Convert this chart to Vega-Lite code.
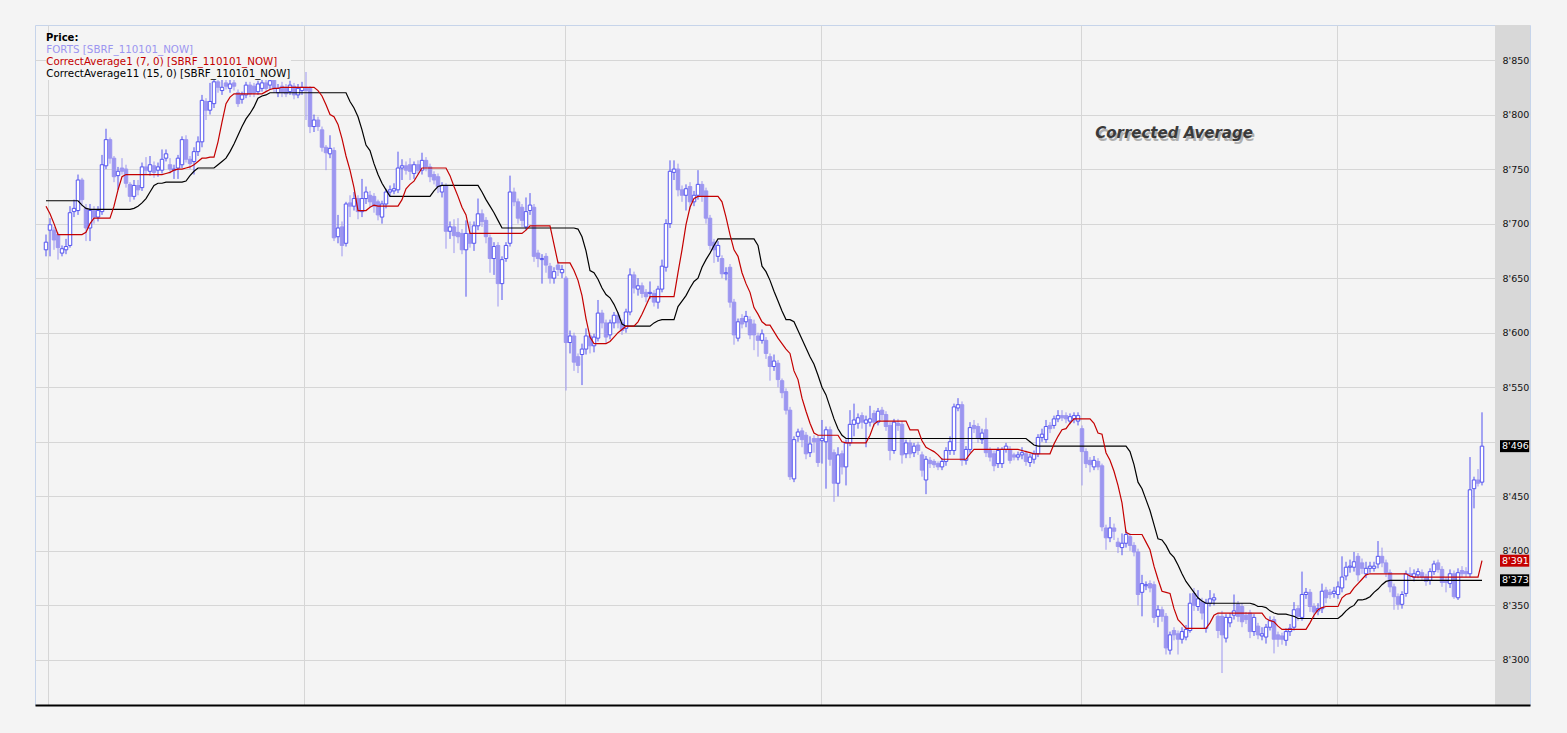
{
"$schema":"https://vega.github.io/schema/vega-lite/v6.json",
"width":1495,"height":680,
"autosize":{"type":"none"},
"padding":{"left":35,"top":25,"right":37,"bottom":28},
"background":"#f4f4f4",
"config":{"view":{"fill":"#f4f4f4","stroke":"#c6d4ea","strokeWidth":1},"font":"DejaVu Sans"},
"resolve":{"axis":{"x":"independent","y":"independent"}},
"datasets":{
"c":[
{"i":0,"o":8676,"h":8690,"l":8670,"c":8683,"a":8716,"b":8721},
{"i":1,"o":8694,"h":8705,"l":8670,"c":8699,"a":8709,"b":8721},
{"i":2,"o":8694,"h":8697,"l":8676,"c":8685,"a":8700,"b":8721},
{"i":3,"o":8690,"h":8692,"l":8667,"c":8678,"a":8690,"b":8721},
{"i":4,"o":8673,"h":8680,"l":8670,"c":8677,"a":8690,"b":8721},
{"i":5,"o":8676,"h":8686,"l":8672,"c":8679,"a":8690,"b":8721},
{"i":6,"o":8680,"h":8716,"l":8678,"c":8710,"a":8690,"b":8721},
{"i":7,"o":8711,"h":8722,"l":8706,"c":8714,"a":8690,"b":8721},
{"i":8,"o":8712,"h":8745,"l":8708,"c":8740,"a":8690,"b":8721},
{"i":9,"o":8740,"h":8742,"l":8716,"c":8722,"a":8690,"b":8717},
{"i":10,"o":8714,"h":8718,"l":8684,"c":8696,"a":8692,"b":8714},
{"i":11,"o":8696,"h":8718,"l":8684,"c":8712,"a":8700,"b":8713},
{"i":12,"o":8712,"h":8716,"l":8700,"c":8706,"a":8705,"b":8713},
{"i":13,"o":8706,"h":8716,"l":8702,"c":8712,"a":8705,"b":8713},
{"i":14,"o":8711,"h":8763,"l":8708,"c":8754,"a":8705,"b":8713},
{"i":15,"o":8753,"h":8787,"l":8750,"c":8777,"a":8705,"b":8713},
{"i":16,"o":8777,"h":8779,"l":8755,"c":8760,"a":8705,"b":8713},
{"i":17,"o":8760,"h":8762,"l":8738,"c":8743,"a":8716,"b":8713},
{"i":18,"o":8744,"h":8752,"l":8731,"c":8748,"a":8731,"b":8713},
{"i":19,"o":8751,"h":8760,"l":8745,"c":8748,"a":8743,"b":8713},
{"i":20,"o":8750,"h":8754,"l":8733,"c":8737,"a":8745,"b":8713},
{"i":21,"o":8736,"h":8738,"l":8720,"c":8725,"a":8745,"b":8713},
{"i":22,"o":8725,"h":8740,"l":8722,"c":8735,"a":8745,"b":8714},
{"i":23,"o":8735,"h":8740,"l":8726,"c":8731,"a":8745,"b":8716},
{"i":24,"o":8733,"h":8756,"l":8730,"c":8752,"a":8745,"b":8719},
{"i":25,"o":8752,"h":8761,"l":8745,"c":8749,"a":8745,"b":8723},
{"i":26,"o":8748,"h":8762,"l":8744,"c":8754,"a":8745,"b":8729},
{"i":27,"o":8753,"h":8757,"l":8742,"c":8747,"a":8745,"b":8735},
{"i":28,"o":8749,"h":8756,"l":8743,"c":8752,"a":8745,"b":8737},
{"i":29,"o":8749,"h":8768,"l":8746,"c":8759,"a":8745,"b":8737},
{"i":30,"o":8760,"h":8768,"l":8757,"c":8764,"a":8746,"b":8738},
{"i":31,"o":8754,"h":8760,"l":8746,"c":8750,"a":8747,"b":8738},
{"i":32,"o":8749,"h":8754,"l":8741,"c":8750,"a":8749,"b":8738},
{"i":33,"o":8751,"h":8763,"l":8741,"c":8760,"a":8750,"b":8738},
{"i":34,"o":8754,"h":8780,"l":8751,"c":8777,"a":8750,"b":8738},
{"i":35,"o":8777,"h":8781,"l":8756,"c":8759,"a":8751,"b":8739},
{"i":36,"o":8759,"h":8762,"l":8750,"c":8755,"a":8752,"b":8744},
{"i":37,"o":8757,"h":8770,"l":8745,"c":8766,"a":8754,"b":8748},
{"i":38,"o":8766,"h":8780,"l":8762,"c":8775,"a":8757,"b":8751},
{"i":39,"o":8775,"h":8818,"l":8770,"c":8813,"a":8760,"b":8751},
{"i":40,"o":8812,"h":8815,"l":8795,"c":8804,"a":8760,"b":8751},
{"i":41,"o":8804,"h":8829,"l":8800,"c":8812,"a":8761,"b":8751},
{"i":42,"o":8810,"h":8834,"l":8806,"c":8830,"a":8761,"b":8751},
{"i":43,"o":8830,"h":8838,"l":8820,"c":8825,"a":8775,"b":8754},
{"i":44,"o":8822,"h":8832,"l":8818,"c":8825,"a":8793,"b":8757},
{"i":45,"o":8829,"h":8835,"l":8823,"c":8826,"a":8810,"b":8760},
{"i":46,"o":8824,"h":8833,"l":8820,"c":8828,"a":8816,"b":8766},
{"i":47,"o":8829,"h":8833,"l":8822,"c":8826,"a":8819,"b":8773},
{"i":48,"o":8820,"h":8823,"l":8807,"c":8810,"a":8819,"b":8781},
{"i":49,"o":8814,"h":8821,"l":8810,"c":8818,"a":8819,"b":8789},
{"i":50,"o":8818,"h":8830,"l":8815,"c":8827,"a":8819,"b":8796},
{"i":51,"o":8827,"h":8830,"l":8816,"c":8819,"a":8819,"b":8801},
{"i":52,"o":8826,"h":8829,"l":8816,"c":8820,"a":8819,"b":8807},
{"i":53,"o":8821,"h":8831,"l":8818,"c":8828,"a":8819,"b":8815},
{"i":54,"o":8824,"h":8833,"l":8821,"c":8829,"a":8819,"b":8817},
{"i":55,"o":8829,"h":8832,"l":8821,"c":8824,"a":8821,"b":8818},
{"i":56,"o":8827,"h":8835,"l":8823,"c":8831,"a":8823,"b":8820},
{"i":57,"o":8832,"h":8836,"l":8820,"c":8824,"a":8824,"b":8820},
{"i":58,"o":8820,"h":8828,"l":8816,"c":8824,"a":8824,"b":8820},
{"i":59,"o":8826,"h":8830,"l":8816,"c":8820,"a":8825,"b":8820},
{"i":60,"o":8824,"h":8828,"l":8816,"c":8819,"a":8825,"b":8820},
{"i":61,"o":8821,"h":8831,"l":8818,"c":8827,"a":8825,"b":8820},
{"i":62,"o":8826,"h":8829,"l":8814,"c":8818,"a":8825,"b":8820},
{"i":63,"o":8818,"h":8828,"l":8815,"c":8824,"a":8825,"b":8820},
{"i":64,"o":8822,"h":8830,"l":8818,"c":8825,"a":8825,"b":8820},
{"i":65,"o":8825,"h":8839,"l":8795,"c":8822,"a":8825,"b":8820},
{"i":66,"o":8824,"h":8826,"l":8783,"c":8789,"a":8825,"b":8820},
{"i":67,"o":8789,"h":8800,"l":8784,"c":8795,"a":8825,"b":8820},
{"i":68,"o":8795,"h":8798,"l":8785,"c":8789,"a":8822,"b":8820},
{"i":69,"o":8786,"h":8789,"l":8766,"c":8770,"a":8817,"b":8820},
{"i":70,"o":8770,"h":8772,"l":8749,"c":8765,"a":8809,"b":8820},
{"i":71,"o":8764,"h":8781,"l":8760,"c":8769,"a":8800,"b":8820},
{"i":72,"o":8767,"h":8770,"l":8684,"c":8687,"a":8798,"b":8820},
{"i":73,"o":8688,"h":8708,"l":8682,"c":8696,"a":8791,"b":8820},
{"i":74,"o":8697,"h":8702,"l":8670,"c":8680,"a":8778,"b":8820},
{"i":75,"o":8682,"h":8720,"l":8679,"c":8718,"a":8762,"b":8820},
{"i":76,"o":8719,"h":8726,"l":8706,"c":8716,"a":8749,"b":8812},
{"i":77,"o":8716,"h":8729,"l":8712,"c":8723,"a":8733,"b":8806},
{"i":78,"o":8723,"h":8726,"l":8704,"c":8711,"a":8712,"b":8798},
{"i":79,"o":8711,"h":8741,"l":8706,"c":8723,"a":8712,"b":8786},
{"i":80,"o":8723,"h":8734,"l":8718,"c":8729,"a":8712,"b":8772},
{"i":81,"o":8726,"h":8730,"l":8715,"c":8720,"a":8715,"b":8767},
{"i":82,"o":8725,"h":8728,"l":8710,"c":8716,"a":8717,"b":8755},
{"i":83,"o":8720,"h":8722,"l":8703,"c":8708,"a":8716,"b":8745},
{"i":84,"o":8706,"h":8721,"l":8700,"c":8718,"a":8716,"b":8737},
{"i":85,"o":8718,"h":8732,"l":8714,"c":8729,"a":8716,"b":8731},
{"i":86,"o":8729,"h":8735,"l":8725,"c":8731,"a":8716,"b":8725},
{"i":87,"o":8730,"h":8737,"l":8727,"c":8732,"a":8716,"b":8725},
{"i":88,"o":8731,"h":8766,"l":8728,"c":8751,"a":8716,"b":8725},
{"i":89,"o":8751,"h":8759,"l":8740,"c":8753,"a":8722,"b":8725},
{"i":90,"o":8753,"h":8757,"l":8745,"c":8749,"a":8732,"b":8725},
{"i":91,"o":8754,"h":8760,"l":8740,"c":8748,"a":8736,"b":8725},
{"i":92,"o":8746,"h":8757,"l":8741,"c":8754,"a":8739,"b":8725},
{"i":93,"o":8754,"h":8758,"l":8745,"c":8749,"a":8745,"b":8725},
{"i":94,"o":8749,"h":8765,"l":8745,"c":8758,"a":8751,"b":8725},
{"i":95,"o":8758,"h":8761,"l":8748,"c":8752,"a":8751,"b":8725},
{"i":96,"o":8752,"h":8755,"l":8738,"c":8743,"a":8751,"b":8725},
{"i":97,"o":8745,"h":8748,"l":8736,"c":8740,"a":8751,"b":8730},
{"i":98,"o":8743,"h":8746,"l":8728,"c":8734,"a":8751,"b":8734},
{"i":99,"o":8729,"h":8738,"l":8724,"c":8735,"a":8751,"b":8735},
{"i":100,"o":8735,"h":8737,"l":8677,"c":8693,"a":8751,"b":8735},
{"i":101,"o":8693,"h":8702,"l":8686,"c":8697,"a":8744,"b":8735},
{"i":102,"o":8697,"h":8704,"l":8673,"c":8689,"a":8734,"b":8735},
{"i":103,"o":8692,"h":8705,"l":8682,"c":8688,"a":8725,"b":8735},
{"i":104,"o":8691,"h":8695,"l":8672,"c":8676,"a":8715,"b":8735},
{"i":105,"o":8676,"h":8703,"l":8633,"c":8691,"a":8708,"b":8735},
{"i":106,"o":8691,"h":8702,"l":8678,"c":8682,"a":8691,"b":8735},
{"i":107,"o":8682,"h":8702,"l":8675,"c":8698,"a":8691,"b":8735},
{"i":108,"o":8698,"h":8723,"l":8694,"c":8709,"a":8691,"b":8735},
{"i":109,"o":8709,"h":8713,"l":8697,"c":8702,"a":8691,"b":8729},
{"i":110,"o":8703,"h":8706,"l":8682,"c":8688,"a":8691,"b":8722},
{"i":111,"o":8687,"h":8690,"l":8655,"c":8668,"a":8691,"b":8716},
{"i":112,"o":8668,"h":8683,"l":8653,"c":8679,"a":8691,"b":8710},
{"i":113,"o":8680,"h":8683,"l":8624,"c":8645,"a":8691,"b":8703},
{"i":114,"o":8645,"h":8670,"l":8630,"c":8667,"a":8691,"b":8696},
{"i":115,"o":8668,"h":8683,"l":8665,"c":8680,"a":8691,"b":8696},
{"i":116,"o":8682,"h":8744,"l":8679,"c":8729,"a":8691,"b":8696},
{"i":117,"o":8729,"h":8733,"l":8716,"c":8720,"a":8691,"b":8696},
{"i":118,"o":8720,"h":8723,"l":8700,"c":8705,"a":8691,"b":8696},
{"i":119,"o":8715,"h":8718,"l":8697,"c":8703,"a":8691,"b":8696},
{"i":120,"o":8697,"h":8724,"l":8694,"c":8711,"a":8694,"b":8696},
{"i":121,"o":8712,"h":8728,"l":8708,"c":8717,"a":8698,"b":8696},
{"i":122,"o":8715,"h":8718,"l":8665,"c":8670,"a":8698,"b":8696},
{"i":123,"o":8673,"h":8676,"l":8660,"c":8668,"a":8698,"b":8696},
{"i":124,"o":8667,"h":8672,"l":8645,"c":8668,"a":8698,"b":8696},
{"i":125,"o":8670,"h":8673,"l":8655,"c":8662,"a":8698,"b":8696},
{"i":126,"o":8661,"h":8664,"l":8645,"c":8650,"a":8698,"b":8696},
{"i":127,"o":8650,"h":8660,"l":8645,"c":8656,"a":8681,"b":8696},
{"i":128,"o":8662,"h":8666,"l":8652,"c":8658,"a":8664,"b":8696},
{"i":129,"o":8655,"h":8662,"l":8650,"c":8658,"a":8664,"b":8696},
{"i":130,"o":8650,"h":8652,"l":8547,"c":8591,"a":8664,"b":8696},
{"i":131,"o":8591,"h":8602,"l":8581,"c":8597,"a":8664,"b":8696},
{"i":132,"o":8597,"h":8600,"l":8565,"c":8573,"a":8657,"b":8696},
{"i":133,"o":8578,"h":8581,"l":8563,"c":8570,"a":8648,"b":8695},
{"i":134,"o":8580,"h":8590,"l":8552,"c":8585,"a":8634,"b":8688},
{"i":135,"o":8585,"h":8604,"l":8580,"c":8597,"a":8613,"b":8675},
{"i":136,"o":8597,"h":8600,"l":8581,"c":8588,"a":8596,"b":8657},
{"i":137,"o":8588,"h":8599,"l":8582,"c":8596,"a":8590,"b":8655},
{"i":138,"o":8595,"h":8630,"l":8592,"c":8618,"a":8590,"b":8649},
{"i":139,"o":8618,"h":8621,"l":8604,"c":8609,"a":8590,"b":8641},
{"i":140,"o":8609,"h":8612,"l":8590,"c":8596,"a":8590,"b":8635},
{"i":141,"o":8598,"h":8612,"l":8594,"c":8609,"a":8592,"b":8632},
{"i":142,"o":8609,"h":8619,"l":8604,"c":8616,"a":8596,"b":8626},
{"i":143,"o":8616,"h":8619,"l":8604,"c":8609,"a":8600,"b":8618},
{"i":144,"o":8609,"h":8612,"l":8598,"c":8602,"a":8603,"b":8608},
{"i":145,"o":8604,"h":8622,"l":8600,"c":8619,"a":8606,"b":8606},
{"i":146,"o":8619,"h":8659,"l":8616,"c":8653,"a":8606,"b":8606},
{"i":147,"o":8653,"h":8656,"l":8636,"c":8641,"a":8606,"b":8606},
{"i":148,"o":8640,"h":8650,"l":8634,"c":8643,"a":8610,"b":8606},
{"i":149,"o":8643,"h":8646,"l":8632,"c":8636,"a":8617,"b":8606},
{"i":150,"o":8637,"h":8640,"l":8628,"c":8633,"a":8625,"b":8606},
{"i":151,"o":8636,"h":8647,"l":8631,"c":8637,"a":8633,"b":8606},
{"i":152,"o":8636,"h":8639,"l":8624,"c":8628,"a":8633,"b":8609},
{"i":153,"o":8628,"h":8643,"l":8622,"c":8640,"a":8633,"b":8611},
{"i":154,"o":8640,"h":8667,"l":8637,"c":8661,"a":8633,"b":8612},
{"i":155,"o":8660,"h":8704,"l":8656,"c":8700,"a":8633,"b":8612},
{"i":156,"o":8700,"h":8758,"l":8696,"c":8748,"a":8633,"b":8612},
{"i":157,"o":8747,"h":8758,"l":8740,"c":8750,"a":8633,"b":8612},
{"i":158,"o":8750,"h":8755,"l":8725,"c":8731,"a":8655,"b":8624},
{"i":159,"o":8731,"h":8735,"l":8720,"c":8726,"a":8676,"b":8629},
{"i":160,"o":8726,"h":8736,"l":8712,"c":8732,"a":8699,"b":8634},
{"i":161,"o":8734,"h":8738,"l":8713,"c":8720,"a":8715,"b":8641},
{"i":162,"o":8720,"h":8730,"l":8716,"c":8726,"a":8723,"b":8647},
{"i":163,"o":8726,"h":8749,"l":8722,"c":8736,"a":8725,"b":8650},
{"i":164,"o":8736,"h":8739,"l":8720,"c":8725,"a":8725,"b":8660},
{"i":165,"o":8730,"h":8733,"l":8700,"c":8705,"a":8725,"b":8667},
{"i":166,"o":8705,"h":8708,"l":8676,"c":8680,"a":8725,"b":8673},
{"i":167,"o":8683,"h":8686,"l":8664,"c":8676,"a":8725,"b":8680},
{"i":168,"o":8670,"h":8684,"l":8665,"c":8680,"a":8725,"b":8686},
{"i":169,"o":8668,"h":8671,"l":8650,"c":8654,"a":8720,"b":8686},
{"i":170,"o":8654,"h":8660,"l":8648,"c":8655,"a":8706,"b":8686},
{"i":171,"o":8660,"h":8663,"l":8623,"c":8628,"a":8690,"b":8686},
{"i":172,"o":8628,"h":8631,"l":8589,"c":8598,"a":8676,"b":8686},
{"i":173,"o":8595,"h":8613,"l":8592,"c":8610,"a":8670,"b":8686},
{"i":174,"o":8613,"h":8617,"l":8604,"c":8608,"a":8655,"b":8686},
{"i":175,"o":8610,"h":8620,"l":8605,"c":8615,"a":8645,"b":8686},
{"i":176,"o":8612,"h":8615,"l":8594,"c":8598,"a":8637,"b":8686},
{"i":177,"o":8608,"h":8612,"l":8584,"c":8598,"a":8623,"b":8686},
{"i":178,"o":8597,"h":8600,"l":8578,"c":8593,"a":8617,"b":8680},
{"i":179,"o":8593,"h":8603,"l":8590,"c":8599,"a":8610,"b":8661},
{"i":180,"o":8593,"h":8596,"l":8576,"c":8581,"a":8607,"b":8656},
{"i":181,"o":8578,"h":8581,"l":8556,"c":8569,"a":8607,"b":8648},
{"i":182,"o":8569,"h":8580,"l":8565,"c":8574,"a":8601,"b":8638},
{"i":183,"o":8572,"h":8575,"l":8550,"c":8557,"a":8595,"b":8629},
{"i":184,"o":8556,"h":8558,"l":8540,"c":8545,"a":8590,"b":8620},
{"i":185,"o":8546,"h":8549,"l":8525,"c":8529,"a":8585,"b":8612},
{"i":186,"o":8529,"h":8532,"l":8465,"c":8468,"a":8581,"b":8612},
{"i":187,"o":8466,"h":8505,"l":8463,"c":8502,"a":8565,"b":8610},
{"i":188,"o":8505,"h":8512,"l":8500,"c":8509,"a":8557,"b":8602},
{"i":189,"o":8510,"h":8513,"l":8495,"c":8502,"a":8540,"b":8594},
{"i":190,"o":8506,"h":8509,"l":8484,"c":8489,"a":8528,"b":8586},
{"i":191,"o":8490,"h":8505,"l":8486,"c":8498,"a":8517,"b":8578},
{"i":192,"o":8503,"h":8506,"l":8490,"c":8500,"a":8508,"b":8571},
{"i":193,"o":8503,"h":8506,"l":8477,"c":8481,"a":8506,"b":8561},
{"i":194,"o":8501,"h":8520,"l":8480,"c":8503,"a":8506,"b":8550},
{"i":195,"o":8500,"h":8514,"l":8457,"c":8511,"a":8506,"b":8543},
{"i":196,"o":8511,"h":8514,"l":8478,"c":8484,"a":8506,"b":8532},
{"i":197,"o":8490,"h":8493,"l":8445,"c":8462,"a":8506,"b":8521},
{"i":198,"o":8462,"h":8495,"l":8450,"c":8488,"a":8506,"b":8512},
{"i":199,"o":8489,"h":8492,"l":8470,"c":8477,"a":8500,"b":8506},
{"i":200,"o":8477,"h":8502,"l":8460,"c":8499,"a":8499,"b":8503},
{"i":201,"o":8499,"h":8529,"l":8496,"c":8516,"a":8499,"b":8503},
{"i":202,"o":8516,"h":8535,"l":8505,"c":8520,"a":8499,"b":8503},
{"i":203,"o":8517,"h":8526,"l":8512,"c":8522,"a":8499,"b":8503},
{"i":204,"o":8524,"h":8527,"l":8512,"c":8518,"a":8499,"b":8503},
{"i":205,"o":8517,"h":8524,"l":8495,"c":8520,"a":8499,"b":8503},
{"i":206,"o":8518,"h":8533,"l":8514,"c":8521,"a":8506,"b":8503},
{"i":207,"o":8526,"h":8529,"l":8514,"c":8518,"a":8516,"b":8503},
{"i":208,"o":8518,"h":8531,"l":8515,"c":8528,"a":8519,"b":8503},
{"i":209,"o":8529,"h":8532,"l":8520,"c":8525,"a":8519,"b":8503},
{"i":210,"o":8525,"h":8528,"l":8510,"c":8514,"a":8519,"b":8503},
{"i":211,"o":8515,"h":8518,"l":8483,"c":8492,"a":8519,"b":8503},
{"i":212,"o":8492,"h":8521,"l":8489,"c":8518,"a":8519,"b":8503},
{"i":213,"o":8517,"h":8521,"l":8510,"c":8515,"a":8519,"b":8503},
{"i":214,"o":8516,"h":8519,"l":8480,"c":8488,"a":8519,"b":8503},
{"i":215,"o":8489,"h":8502,"l":8485,"c":8499,"a":8519,"b":8503},
{"i":216,"o":8499,"h":8502,"l":8485,"c":8489,"a":8511,"b":8503},
{"i":217,"o":8490,"h":8499,"l":8486,"c":8496,"a":8511,"b":8503},
{"i":218,"o":8497,"h":8500,"l":8488,"c":8492,"a":8511,"b":8503},
{"i":219,"o":8488,"h":8491,"l":8468,"c":8474,"a":8501,"b":8503},
{"i":220,"o":8465,"h":8487,"l":8452,"c":8484,"a":8495,"b":8503},
{"i":221,"o":8483,"h":8486,"l":8476,"c":8480,"a":8493,"b":8503},
{"i":222,"o":8482,"h":8484,"l":8476,"c":8479,"a":8491,"b":8503},
{"i":223,"o":8480,"h":8482,"l":8474,"c":8477,"a":8488,"b":8503},
{"i":224,"o":8477,"h":8485,"l":8474,"c":8482,"a":8484,"b":8503},
{"i":225,"o":8482,"h":8495,"l":8478,"c":8492,"a":8484,"b":8503},
{"i":226,"o":8492,"h":8505,"l":8488,"c":8500,"a":8484,"b":8503},
{"i":227,"o":8492,"h":8535,"l":8488,"c":8532,"a":8484,"b":8503},
{"i":228,"o":8531,"h":8540,"l":8528,"c":8534,"a":8484,"b":8503},
{"i":229,"o":8534,"h":8537,"l":8478,"c":8483,"a":8484,"b":8503},
{"i":230,"o":8483,"h":8496,"l":8479,"c":8493,"a":8484,"b":8503},
{"i":231,"o":8493,"h":8518,"l":8490,"c":8513,"a":8489,"b":8503},
{"i":232,"o":8515,"h":8520,"l":8508,"c":8512,"a":8493,"b":8503},
{"i":233,"o":8514,"h":8517,"l":8499,"c":8503,"a":8493,"b":8503},
{"i":234,"o":8502,"h":8512,"l":8498,"c":8508,"a":8493,"b":8503},
{"i":235,"o":8511,"h":8522,"l":8486,"c":8490,"a":8493,"b":8503},
{"i":236,"o":8492,"h":8495,"l":8482,"c":8486,"a":8493,"b":8503},
{"i":237,"o":8489,"h":8492,"l":8473,"c":8478,"a":8493,"b":8503},
{"i":238,"o":8480,"h":8495,"l":8476,"c":8492,"a":8493,"b":8503},
{"i":239,"o":8480,"h":8495,"l":8476,"c":8493,"a":8493,"b":8503},
{"i":240,"o":8493,"h":8499,"l":8490,"c":8496,"a":8493,"b":8503},
{"i":241,"o":8493,"h":8496,"l":8480,"c":8483,"a":8493,"b":8503},
{"i":242,"o":8488,"h":8490,"l":8483,"c":8486,"a":8493,"b":8503},
{"i":243,"o":8486,"h":8491,"l":8483,"c":8488,"a":8493,"b":8503},
{"i":244,"o":8488,"h":8495,"l":8484,"c":8490,"a":8492,"b":8503},
{"i":245,"o":8489,"h":8492,"l":8478,"c":8482,"a":8491,"b":8503},
{"i":246,"o":8481,"h":8489,"l":8477,"c":8486,"a":8490,"b":8500},
{"i":247,"o":8484,"h":8492,"l":8480,"c":8489,"a":8489,"b":8497},
{"i":248,"o":8489,"h":8507,"l":8486,"c":8504,"a":8489,"b":8496},
{"i":249,"o":8504,"h":8512,"l":8500,"c":8507,"a":8489,"b":8496},
{"i":250,"o":8502,"h":8520,"l":8499,"c":8514,"a":8489,"b":8496},
{"i":251,"o":8515,"h":8518,"l":8508,"c":8512,"a":8489,"b":8496},
{"i":252,"o":8515,"h":8524,"l":8512,"c":8521,"a":8498,"b":8496},
{"i":253,"o":8521,"h":8529,"l":8518,"c":8524,"a":8505,"b":8496},
{"i":254,"o":8524,"h":8529,"l":8519,"c":8522,"a":8511,"b":8496},
{"i":255,"o":8524,"h":8527,"l":8517,"c":8521,"a":8512,"b":8496},
{"i":256,"o":8519,"h":8526,"l":8516,"c":8523,"a":8517,"b":8496},
{"i":257,"o":8521,"h":8527,"l":8517,"c":8524,"a":8521,"b":8496},
{"i":258,"o":8519,"h":8527,"l":8515,"c":8524,"a":8521,"b":8496},
{"i":259,"o":8512,"h":8515,"l":8460,"c":8491,"a":8521,"b":8496},
{"i":260,"o":8491,"h":8494,"l":8476,"c":8480,"a":8521,"b":8496},
{"i":261,"o":8483,"h":8486,"l":8472,"c":8479,"a":8521,"b":8496},
{"i":262,"o":8477,"h":8487,"l":8474,"c":8483,"a":8517,"b":8496},
{"i":263,"o":8482,"h":8485,"l":8474,"c":8477,"a":8508,"b":8496},
{"i":264,"o":8478,"h":8480,"l":8418,"c":8422,"a":8507,"b":8496},
{"i":265,"o":8421,"h":8424,"l":8401,"c":8412,"a":8490,"b":8496},
{"i":266,"o":8412,"h":8431,"l":8408,"c":8421,"a":8483,"b":8496},
{"i":267,"o":8421,"h":8425,"l":8410,"c":8418,"a":8473,"b":8496},
{"i":268,"o":8408,"h":8412,"l":8398,"c":8404,"a":8460,"b":8496},
{"i":269,"o":8403,"h":8416,"l":8396,"c":8407,"a":8444,"b":8496},
{"i":270,"o":8407,"h":8419,"l":8403,"c":8415,"a":8417,"b":8496},
{"i":271,"o":8413,"h":8416,"l":8400,"c":8405,"a":8415,"b":8491},
{"i":272,"o":8405,"h":8408,"l":8395,"c":8399,"a":8415,"b":8479},
{"i":273,"o":8399,"h":8402,"l":8350,"c":8360,"a":8415,"b":8463},
{"i":274,"o":8362,"h":8378,"l":8340,"c":8370,"a":8415,"b":8457},
{"i":275,"o":8368,"h":8372,"l":8364,"c":8369,"a":8408,"b":8447},
{"i":276,"o":8370,"h":8373,"l":8362,"c":8366,"a":8401,"b":8437},
{"i":277,"o":8369,"h":8372,"l":8334,"c":8339,"a":8386,"b":8424},
{"i":278,"o":8340,"h":8350,"l":8330,"c":8346,"a":8374,"b":8411},
{"i":279,"o":8346,"h":8349,"l":8335,"c":8340,"a":8363,"b":8410},
{"i":280,"o":8340,"h":8343,"l":8305,"c":8311,"a":8362,"b":8405},
{"i":281,"o":8309,"h":8326,"l":8305,"c":8323,"a":8361,"b":8398},
{"i":282,"o":8327,"h":8330,"l":8318,"c":8323,"a":8347,"b":8394},
{"i":283,"o":8324,"h":8327,"l":8305,"c":8319,"a":8337,"b":8387},
{"i":284,"o":8319,"h":8330,"l":8315,"c":8326,"a":8333,"b":8379},
{"i":285,"o":8321,"h":8332,"l":8318,"c":8328,"a":8329,"b":8372},
{"i":286,"o":8327,"h":8361,"l":8325,"c":8352,"a":8329,"b":8367},
{"i":287,"o":8361,"h":8366,"l":8345,"c":8350,"a":8329,"b":8362},
{"i":288,"o":8349,"h":8364,"l":8345,"c":8356,"a":8329,"b":8357},
{"i":289,"o":8353,"h":8357,"l":8337,"c":8343,"a":8329,"b":8354},
{"i":290,"o":8329,"h":8356,"l":8325,"c":8352,"a":8329,"b":8352},
{"i":291,"o":8352,"h":8364,"l":8349,"c":8356,"a":8334,"b":8352},
{"i":292,"o":8355,"h":8361,"l":8350,"c":8357,"a":8341,"b":8352},
{"i":293,"o":8340,"h":8343,"l":8320,"c":8327,"a":8343,"b":8352},
{"i":294,"o":8340,"h":8345,"l":8288,"c":8323,"a":8343,"b":8352},
{"i":295,"o":8320,"h":8342,"l":8316,"c":8339,"a":8343,"b":8352},
{"i":296,"o":8334,"h":8343,"l":8330,"c":8339,"a":8343,"b":8352},
{"i":297,"o":8341,"h":8360,"l":8337,"c":8345,"a":8343,"b":8352},
{"i":298,"o":8351,"h":8354,"l":8335,"c":8340,"a":8343,"b":8352},
{"i":299,"o":8349,"h":8352,"l":8330,"c":8335,"a":8343,"b":8352},
{"i":300,"o":8341,"h":8344,"l":8333,"c":8337,"a":8343,"b":8352},
{"i":301,"o":8343,"h":8346,"l":8320,"c":8326,"a":8343,"b":8352},
{"i":302,"o":8326,"h":8342,"l":8322,"c":8339,"a":8343,"b":8351},
{"i":303,"o":8331,"h":8334,"l":8319,"c":8323,"a":8343,"b":8349},
{"i":304,"o":8322,"h":8330,"l":8318,"c":8324,"a":8343,"b":8349},
{"i":305,"o":8321,"h":8333,"l":8315,"c":8330,"a":8338,"b":8348},
{"i":306,"o":8330,"h":8340,"l":8327,"c":8336,"a":8336,"b":8345},
{"i":307,"o":8337,"h":8340,"l":8306,"c":8319,"a":8335,"b":8343},
{"i":308,"o":8323,"h":8326,"l":8312,"c":8319,"a":8331,"b":8342},
{"i":309,"o":8322,"h":8325,"l":8314,"c":8319,"a":8328,"b":8342},
{"i":310,"o":8318,"h":8329,"l":8313,"c":8326,"a":8328,"b":8342},
{"i":311,"o":8326,"h":8333,"l":8322,"c":8329,"a":8328,"b":8341},
{"i":312,"o":8330,"h":8353,"l":8327,"c":8346,"a":8328,"b":8340},
{"i":313,"o":8347,"h":8350,"l":8336,"c":8340,"a":8328,"b":8338},
{"i":314,"o":8339,"h":8381,"l":8336,"c":8360,"a":8328,"b":8338},
{"i":315,"o":8360,"h":8366,"l":8356,"c":8362,"a":8328,"b":8338},
{"i":316,"o":8362,"h":8365,"l":8344,"c":8349,"a":8334,"b":8338},
{"i":317,"o":8349,"h":8352,"l":8338,"c":8344,"a":8341,"b":8338},
{"i":318,"o":8345,"h":8352,"l":8341,"c":8347,"a":8346,"b":8338},
{"i":319,"o":8347,"h":8370,"l":8343,"c":8363,"a":8348,"b":8338},
{"i":320,"o":8364,"h":8367,"l":8352,"c":8357,"a":8349,"b":8338},
{"i":321,"o":8362,"h":8365,"l":8356,"c":8360,"a":8349,"b":8338},
{"i":322,"o":8361,"h":8367,"l":8357,"c":8363,"a":8349,"b":8338},
{"i":323,"o":8360,"h":8372,"l":8356,"c":8367,"a":8349,"b":8338},
{"i":324,"o":8366,"h":8395,"l":8362,"c":8376,"a":8357,"b":8341},
{"i":325,"o":8377,"h":8390,"l":8373,"c":8385,"a":8360,"b":8345},
{"i":326,"o":8385,"h":8392,"l":8380,"c":8386,"a":8361,"b":8348},
{"i":327,"o":8385,"h":8399,"l":8381,"c":8390,"a":8366,"b":8350},
{"i":328,"o":8395,"h":8398,"l":8372,"c":8378,"a":8370,"b":8355},
{"i":329,"o":8389,"h":8393,"l":8379,"c":8384,"a":8374,"b":8355},
{"i":330,"o":8379,"h":8390,"l":8375,"c":8384,"a":8378,"b":8356},
{"i":331,"o":8384,"h":8390,"l":8380,"c":8386,"a":8379,"b":8358},
{"i":332,"o":8384,"h":8390,"l":8381,"c":8386,"a":8379,"b":8362},
{"i":333,"o":8388,"h":8409,"l":8384,"c":8395,"a":8379,"b":8365},
{"i":334,"o":8395,"h":8403,"l":8385,"c":8389,"a":8379,"b":8369},
{"i":335,"o":8389,"h":8392,"l":8376,"c":8380,"a":8379,"b":8372},
{"i":336,"o":8380,"h":8383,"l":8362,"c":8367,"a":8379,"b":8373},
{"i":337,"o":8367,"h":8370,"l":8346,"c":8358,"a":8379,"b":8373},
{"i":338,"o":8358,"h":8361,"l":8346,"c":8351,"a":8379,"b":8373},
{"i":339,"o":8351,"h":8363,"l":8347,"c":8360,"a":8379,"b":8373},
{"i":340,"o":8361,"h":8382,"l":8358,"c":8379,"a":8379,"b":8373},
{"i":341,"o":8379,"h":8385,"l":8374,"c":8377,"a":8377,"b":8373},
{"i":342,"o":8376,"h":8383,"l":8372,"c":8379,"a":8376,"b":8373},
{"i":343,"o":8378,"h":8384,"l":8375,"c":8381,"a":8376,"b":8373},
{"i":344,"o":8380,"h":8383,"l":8373,"c":8376,"a":8376,"b":8373},
{"i":345,"o":8376,"h":8379,"l":8368,"c":8372,"a":8376,"b":8373},
{"i":346,"o":8373,"h":8384,"l":8369,"c":8381,"a":8376,"b":8373},
{"i":347,"o":8381,"h":8391,"l":8378,"c":8388,"a":8376,"b":8373},
{"i":348,"o":8389,"h":8392,"l":8380,"c":8383,"a":8376,"b":8373},
{"i":349,"o":8383,"h":8386,"l":8367,"c":8371,"a":8376,"b":8373},
{"i":350,"o":8373,"h":8376,"l":8362,"c":8371,"a":8376,"b":8373},
{"i":351,"o":8370,"h":8383,"l":8366,"c":8379,"a":8376,"b":8373},
{"i":352,"o":8379,"h":8382,"l":8356,"c":8358,"a":8376,"b":8373},
{"i":353,"o":8357,"h":8384,"l":8355,"c":8380,"a":8376,"b":8373},
{"i":354,"o":8382,"h":8386,"l":8376,"c":8379,"a":8376,"b":8373},
{"i":355,"o":8381,"h":8385,"l":8376,"c":8379,"a":8376,"b":8373},
{"i":356,"o":8379,"h":8486,"l":8376,"c":8456,"a":8376,"b":8373},
{"i":357,"o":8457,"h":8468,"l":8439,"c":8465,"a":8376,"b":8373},
{"i":358,"o":8465,"h":8475,"l":8459,"c":8462,"a":8376,"b":8373},
{"i":359,"o":8463,"h":8527,"l":8460,"c":8496,"a":8391,"b":8373}
],
"last":[
{"v":8496,"label":"8'496","kind":"price"},
{"v":8391,"label":"8'391","kind":"avg1"},
{"v":8373,"label":"8'373","kind":"avg2"}
],
"note":[{"t":"Corrected Average","i":282,"p":8783}],
"band":[{"part":"price scale"}]
},
"layer":[
{"data":{"name":"band"},
 "mark":{"type":"rect","color":"#d8d8d8"},
 "encoding":{"x":{"datum":362.25,"axis":null},"x2":{"datum":371}}},
{"data":{"name":"c"},
 "mark":{"type":"rule","strokeWidth":1},
 "encoding":{
  "x":{"field":"i","type":"quantitative","scale":{"domain":[-2.75,371],"nice":false,"zero":false,"padding":0},
       "axis":{"orient":"bottom","values":[0.5,64.5,129.75,193.75,258.75,322.75],"labels":false,"ticks":false,"domain":false,"grid":true,"gridColor":"#d6d6d6","gridWidth":1,"title":null,"zindex":0,"minExtent":0,"maxExtent":0}},
  "y":{"field":"l","type":"quantitative","scale":{"domain":[8258.7,8882.1],"nice":false,"zero":false,"padding":0},
       "axis":{"orient":"right","values":[8300,8350,8400,8450,8500,8550,8600,8650,8700,8750,8800,8850],"labels":false,"domain":false,"ticks":false,"grid":true,"gridColor":"#d6d6d6","gridWidth":1,"title":null,"zindex":0,"minExtent":0,"maxExtent":0}},
  "y2":{"field":"h"},
  "color":{"condition":{"test":"datum.c >= datum.o","value":"#5252f0"},"datum":"FORTS [SBRF_110101_NOW]",
     "scale":{"domain":["FORTS [SBRF_110101_NOW]","CorrectAverage1 (7, 0) [SBRF_110101_NOW]","CorrectAverage11 (15, 0) [SBRF_110101_NOW]"],"range":["#9c96f0","#c40000","#000000"]},
     "legend":{"orient":"none","legendX":11,"legendY":8,"title":"Price:","titleFont":"DejaVu Sans","titleFontSize":10,"titleFontWeight":"bold","titleColor":"#000000","titlePadding":2,"labelFont":"DejaVu Sans","labelFontSize":10.3,"labelColor":{"expr":"scale('color', datum.value)"},"labelLimit":400,"symbolSize":0,"symbolStrokeWidth":0,"symbolOpacity":0,"labelOffset":-10,"rowPadding":1,"padding":0,"fillColor":"#f4f4f4"}}
 }},
{"data":{"name":"c"},
 "mark":{"type":"bar","size":3.5,"strokeWidth":1,"orient":"vertical"},
 "encoding":{
  "x":{"field":"i","type":"quantitative","axis":null},
  "y":{"field":"o","type":"quantitative","axis":null},
  "y2":{"field":"c"},
  "color":{"condition":{"test":"datum.c >= datum.o","value":"#ffffff"},"value":"#9c96f0"},
  "stroke":{"condition":{"test":"datum.c >= datum.o","value":"#5252f0"},"value":"#9c96f0"}
 }},
{"data":{"name":"c"},
 "mark":{"type":"line","strokeWidth":1.2},
 "encoding":{
  "x":{"field":"i","type":"quantitative",
       "axis":{"orient":"bottom","labels":false,"ticks":false,"grid":false,"domain":true,"domainColor":"#000000","domainWidth":2,"title":null,"zindex":1,"minExtent":0,"maxExtent":0}},
  "y":{"field":"b","type":"quantitative",
       "axis":{"orient":"right","values":[8300,8350,8400,8450,8550,8600,8650,8700,8750,8800,8850],"labelExpr":"replace(format(datum.value, ','), ',', \"'\")","domain":false,"ticks":false,"tickSize":0,"grid":false,"labelAlign":"left","labelPadding":-28,"labelFontSize":9.5,"labelFont":"DejaVu Sans","labelColor":"#111111","labelBound":false,"labelOverlap":false,"title":null,"zindex":1}},
  "color":{"datum":"CorrectAverage11 (15, 0) [SBRF_110101_NOW]"}
 }},
{"data":{"name":"c"},
 "mark":{"type":"line","strokeWidth":1.2},
 "encoding":{
  "x":{"field":"i","type":"quantitative","axis":null},
  "y":{"field":"a","type":"quantitative","axis":null},
  "color":{"datum":"CorrectAverage1 (7, 0) [SBRF_110101_NOW]"}
 }},
{"data":{"name":"note"},
 "mark":{"type":"text","font":"DejaVu Sans","fontSize":15,"fontWeight":"bold","fontStyle":"italic","color":"#777777","opacity":0.55,"dx":2,"dy":3,"align":"center","baseline":"middle"},
 "encoding":{"x":{"field":"i","type":"quantitative","axis":null},"y":{"field":"p","type":"quantitative","axis":null},"text":{"field":"t"}}},
{"data":{"name":"note"},
 "mark":{"type":"text","font":"DejaVu Sans","fontSize":15,"fontWeight":"bold","fontStyle":"italic","color":"#3a3a3a","align":"center","baseline":"middle"},
 "encoding":{"x":{"field":"i","type":"quantitative","axis":null},"y":{"field":"p","type":"quantitative","axis":null},"text":{"field":"t"}}},
{"data":{"name":"last"},
 "mark":{"type":"rect","yOffset":-6,"y2Offset":6},
 "encoding":{
  "x":{"datum":363.5,"axis":null},"x2":{"datum":370.8},
  "y":{"field":"v","type":"quantitative","axis":null},"y2":{"field":"v"},
  "fill":{"field":"kind","type":"nominal","scale":{"domain":["price","avg1","avg2"],"range":["#000000","#c40000","#000000"]},"legend":null}
 }},
{"data":{"name":"last"},
 "mark":{"type":"text","align":"left","baseline":"middle","font":"DejaVu Sans","fontSize":9.5,"color":"#ffffff"},
 "encoding":{
  "x":{"datum":364,"axis":null},
  "y":{"field":"v","type":"quantitative","axis":null},
  "text":{"field":"label"}
 }}
]
}
